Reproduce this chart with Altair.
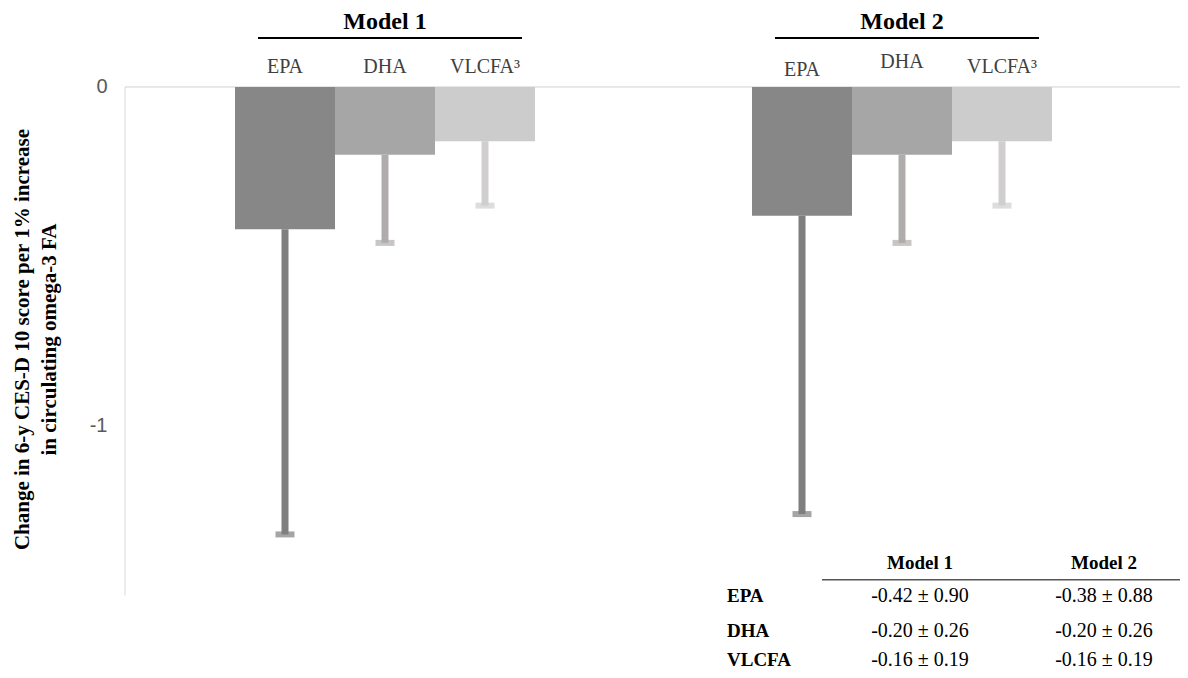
import altair as alt
import pandas as pd

# ---- data ----
models = ["Model 1", "Model 2"]
fas = ["EPA", "DHA", "VLCFA"]
fa_labels = ["EPA", "DHA", "VLCFA³"]
model1_mean = [-0.42, -0.20, -0.16]
model1_se = [0.90, 0.26, 0.19]
model2_mean = [-0.38, -0.20, -0.16]
model2_se = [0.88, 0.26, 0.19]
y_ticks = [0, -1]

# ---- layout / style ----
group_center = [2.6, 7.77]
fa_offset = [-1.0, 0.0, 1.0]
label_y = [[0.059, 0.059, 0.059], [0.05, 0.073, 0.059]]
bar_colors = ["#878787", "#a6a6a6", "#cccccc"]
err_colors = ["#7f7f7f", "#b0acac", "#d0cece"]
SERIF = "Liberation Serif"
SANS = "Liberation Sans"

means = [model1_mean, model2_mean]
ses = [model1_se, model2_se]

rows = []
for gi, m in enumerate(models):
    for fi, fa in enumerate(fas):
        c = group_center[gi] + fa_offset[fi]
        rows.append(dict(model=m, fa=fa, label=fa_labels[fi], xc=c,
                         x0=c - 0.5, x1=c + 0.5, zero=0.0, ylab=label_y[gi][fi],
                         mean=means[gi][fi], low=means[gi][fi] - ses[gi][fi],
                         color=bar_colors[fi], ecolor=err_colors[fi]))
df = pd.DataFrame(rows)

X = alt.Scale(domain=[0, 10.55], nice=False, zero=False)
Y = alt.Scale(domain=[-1.720, 0.233], nice=False, zero=False)

yaxis = alt.Axis(values=y_ticks, labelExpr="toString(datum.value)", domain=False,
                 ticks=False, grid=False, labelFont=SANS, labelFontSize=20,
                 labelColor="#595959", labelPadding=18,
                 title=["Change in 6-y CES-D 10 score per 1% increase",
                        "in circulating omega-3 FA"],
                 titleFont=SERIF, titleFontSize=21, titleFontWeight="bold",
                 titleColor="#000000", titlePadding=30, titleLineHeight=27)

base = alt.Chart(df)

# axis line (left) and zero line
axis_df = pd.DataFrame({"x": [0.0], "y": [0.0], "y2": [-1.5], "xr": [10.55]})
axis_line = alt.Chart(axis_df).mark_rule(color="#d9d9d9", strokeWidth=1).encode(
    x=alt.X("x:Q", scale=X, axis=None),
    y=alt.Y("y:Q", scale=Y, axis=yaxis),
    y2="y2:Q")
zero_line = alt.Chart(axis_df).mark_rule(color="#d0d0d0", strokeWidth=1).encode(
    x=alt.X("x:Q", scale=X), x2="xr:Q", y=alt.Y("y:Q", scale=Y))

bars = base.mark_rect().encode(
    x=alt.X("x0:Q", scale=X), x2="x1:Q",
    y=alt.Y("zero:Q", scale=Y), y2="mean:Q",
    color=alt.Color("color:N", scale=None))

err = base.mark_rule(strokeWidth=7).encode(
    x=alt.X("xc:Q", scale=X),
    y=alt.Y("mean:Q", scale=Y), y2="low:Q",
    color=alt.Color("ecolor:N", scale=None))

caps = base.mark_tick(orient="horizontal", size=19, thickness=6).encode(
    x=alt.X("xc:Q", scale=X),
    y=alt.Y("low:Q", scale=Y),
    color=alt.Color("ecolor:N", scale=None))

fa_text = base.mark_text(font=SERIF, fontSize=20, color="#404040").encode(
    x=alt.X("xc:Q", scale=X), y=alt.Y("ylab:Q", scale=Y), text="label:N")

# model headers at top
head_df = pd.DataFrame({"model": models, "xc": group_center,
                        "xl": [c - 1.27 for c in group_center],
                        "xr": [c + 1.37 for c in group_center],
                        "yt": [0.193, 0.193], "yl": [0.1445, 0.1445]})
head_text = alt.Chart(head_df).mark_text(font=SERIF, fontSize=24, fontWeight="bold",
                                         color="#000000").encode(
    x=alt.X("xc:Q", scale=X), y=alt.Y("yt:Q", scale=Y), text="model:N")
head_line = alt.Chart(head_df).mark_rule(color="#000000", strokeWidth=2).encode(
    x=alt.X("xl:Q", scale=X), x2="xr:Q", y=alt.Y("yl:Q", scale=Y))

# summary table (bottom right)
table_col_x = [7.95, 9.79]
table_label_x = 6.02
table_row_y = [-1.501, -1.604, -1.690]
table_head_y = -1.404
tab_rows = []
for gi, m in enumerate(models):
    for fi, fa in enumerate(fas):
        tab_rows.append(dict(x=table_col_x[gi], y=table_row_y[fi],
                             txt=f"{means[gi][fi]:.2f} ± {ses[gi][fi]:.2f}"))
tab_df = pd.DataFrame(tab_rows)
tab_vals = alt.Chart(tab_df).mark_text(font=SERIF, fontSize=20, color="#000000").encode(
    x=alt.X("x:Q", scale=X), y=alt.Y("y:Q", scale=Y), text="txt:N")
lab_df = pd.DataFrame({"x": [table_label_x] * 3, "y": table_row_y, "txt": fas})
tab_labels = alt.Chart(lab_df).mark_text(font=SERIF, fontSize=19, fontWeight="bold",
                                         align="left", color="#000000").encode(
    x=alt.X("x:Q", scale=X), y=alt.Y("y:Q", scale=Y), text="txt:N")
th_df = pd.DataFrame({"x": table_col_x, "y": [table_head_y] * 2, "txt": models})
tab_head = alt.Chart(th_df).mark_text(font=SERIF, fontSize=19, fontWeight="bold",
                                      color="#000000").encode(
    x=alt.X("x:Q", scale=X), y=alt.Y("y:Q", scale=Y), text="txt:N")
tl_df = pd.DataFrame({"x": [6.97], "x2": [10.55], "y": [-1.454]})
tab_line = alt.Chart(tl_df).mark_rule(color="#555555", strokeWidth=1.5).encode(
    x=alt.X("x:Q", scale=X), x2="x2:Q", y=alt.Y("y:Q", scale=Y))

chart = alt.layer(
    axis_line, zero_line, bars, err, caps, fa_text, head_text, head_line,
    tab_line, tab_head, tab_labels, tab_vals
).properties(
    width=1055, height=662,
    autosize=alt.AutoSizeParams(type="none"),
    padding={"left": 117, "top": 0, "right": 0, "bottom": 0},
    background="#ffffff",
).configure_view(strokeWidth=0)

chart.save("out.html", embed_options={"renderer": "svg", "actions": False})
